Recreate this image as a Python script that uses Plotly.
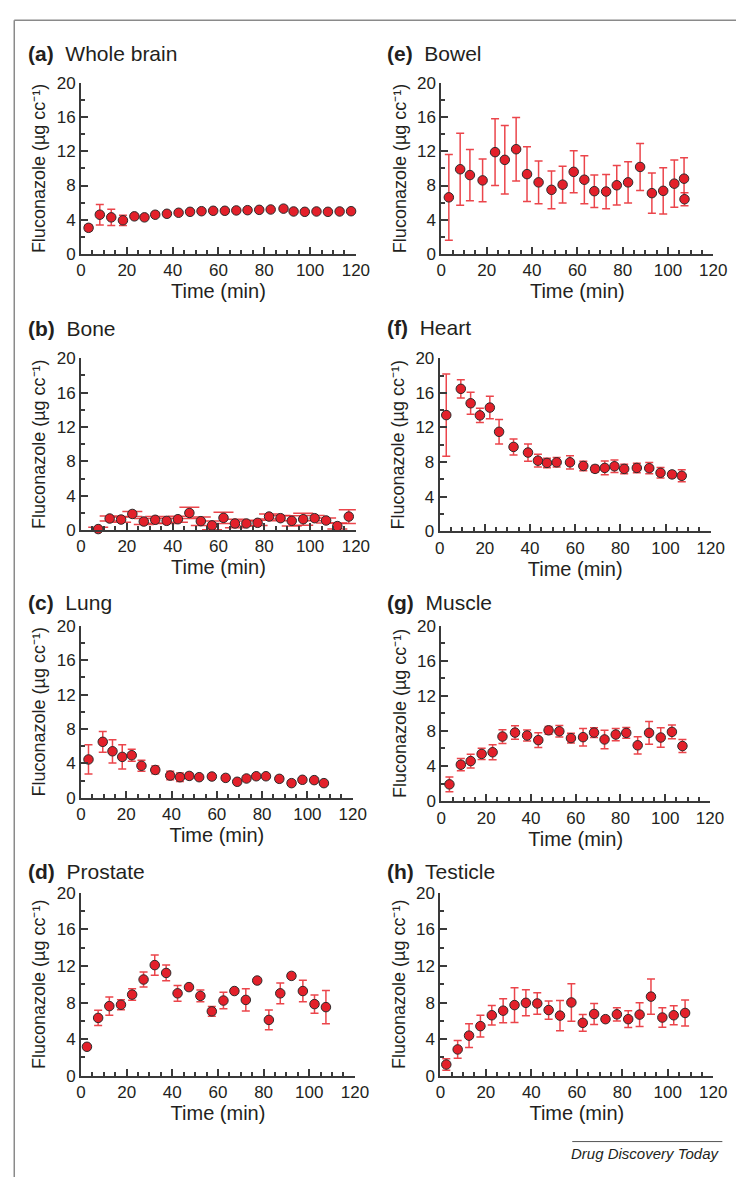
import plotly.graph_objects as go

W, H = 750, 1187

# ---------------- data ----------------
a_time = [3.3, 8.2, 13.2, 18.3, 23.3, 27.7, 32.4, 37.5, 42.6, 47.6, 52.6, 57.7, 62.8, 67.8, 72.7, 77.8, 82.8, 88.4, 92.8, 97.7, 102.8, 107.8, 112.9, 117.9]
a_conc = [3.06, 4.59, 4.28, 3.94, 4.40, 4.28, 4.59, 4.70, 4.82, 4.93, 5.00, 5.05, 5.05, 5.09, 5.12, 5.16, 5.20, 5.30, 4.97, 4.93, 4.97, 4.93, 4.97, 5.00]
a_err = [0.35, 1.20, 0.95, 0.60, 0.20, 0.20, 0.15, 0.15, 0.15, 0.15, 0.15, 0.15, 0.15, 0.15, 0.15, 0.15, 0.15, 0.15, 0.15, 0.15, 0.15, 0.15, 0.15, 0.15]

b_time = [7.5, 12.5, 17.5, 22.4, 27.4, 32.4, 37.4, 42.3, 47.3, 52.3, 57.2, 62.2, 67.2, 72.2, 77.1, 82.1, 87.1, 92.0, 97.0, 102.0, 107.0, 111.9, 116.9]
b_conc = [0.11, 1.34, 1.22, 1.87, 0.99, 1.19, 1.07, 1.26, 1.99, 1.03, 0.54, 1.42, 0.76, 0.76, 0.84, 1.57, 1.38, 1.07, 1.26, 1.38, 1.11, 0.46, 1.57]
b_err = [0.20, 0.30, 0.30, 0.30, 0.35, 0.40, 0.30, 0.35, 0.65, 0.50, 0.50, 0.65, 0.50, 0.30, 0.30, 0.30, 0.30, 0.60, 0.70, 0.30, 0.30, 0.35, 0.80]

c_time = [3.3, 9.6, 13.9, 18.2, 22.4, 26.7, 32.8, 39.4, 43.7, 47.8, 52.2, 57.8, 63.9, 69.0, 73.1, 77.4, 81.7, 87.6, 93.0, 97.8, 103.0, 107.3]
c_conc = [4.46, 6.51, 5.41, 4.76, 4.95, 3.73, 3.24, 2.59, 2.40, 2.55, 2.40, 2.48, 2.32, 1.87, 2.25, 2.51, 2.51, 2.21, 1.71, 2.10, 2.06, 1.71]
c_err = [1.70, 1.20, 1.35, 1.40, 0.70, 0.63, 0.45, 0.50, 0.50, 0.30, 0.25, 0.25, 0.25, 0.20, 0.30, 0.25, 0.25, 0.30, 0.25, 0.25, 0.25, 0.20]

d_time = [2.6, 7.5, 12.4, 17.5, 22.4, 27.4, 32.3, 37.3, 42.3, 47.3, 52.3, 57.3, 62.4, 67.2, 72.2, 77.2, 82.3, 87.3, 92.2, 97.2, 102.3, 107.3]
d_conc = [3.16, 6.32, 7.61, 7.76, 8.87, 10.52, 12.10, 11.24, 9.01, 9.69, 8.73, 7.04, 8.22, 9.26, 8.29, 10.41, 6.10, 9.01, 10.92, 9.26, 7.83, 7.50]
d_err = [0.20, 0.83, 1.00, 0.55, 0.63, 0.83, 1.10, 0.86, 0.86, 0.20, 0.65, 0.54, 0.90, 0.20, 1.22, 0.20, 1.08, 1.13, 0.25, 1.18, 1.00, 1.83]

e_time = [3.3, 8.3, 12.6, 18.2, 23.7, 28.0, 33.0, 37.8, 42.9, 48.6, 53.5, 58.4, 63.1, 67.5, 72.7, 77.4, 82.4, 87.7, 92.9, 97.9, 102.8, 107.1, 107.3]
e_conc = [6.62, 9.90, 9.22, 8.60, 11.90, 11.00, 12.24, 9.33, 8.37, 7.50, 8.10, 9.60, 8.68, 7.34, 7.30, 8.03, 8.37, 10.17, 7.11, 7.38, 8.22, 8.80, 6.40]
e_err = [5.00, 4.20, 3.00, 2.50, 3.90, 4.00, 3.70, 3.20, 2.50, 2.20, 2.15, 2.45, 2.80, 1.90, 2.00, 2.30, 2.40, 2.75, 2.35, 2.70, 2.75, 2.45, 0.75]

f_time = [2.9, 9.35, 13.7, 17.8, 22.2, 26.3, 32.7, 39.1, 43.5, 47.5, 51.8, 57.7, 63.6, 68.8, 73.1, 77.4, 81.7, 87.3, 92.8, 97.8, 102.9, 107.2]
f_conc = [13.43, 16.47, 14.80, 13.40, 14.30, 11.50, 9.75, 9.10, 8.16, 7.90, 7.97, 7.97, 7.55, 7.21, 7.32, 7.51, 7.21, 7.32, 7.29, 6.76, 6.57, 6.41]
f_err = [4.75, 1.05, 1.27, 0.82, 1.30, 1.42, 0.93, 1.00, 0.74, 0.55, 0.55, 0.76, 0.55, 0.40, 0.80, 0.72, 0.55, 0.55, 0.65, 0.60, 0.35, 0.70]

g_time = [3.6, 8.7, 13.1, 18.0, 22.9, 27.3, 32.9, 38.3, 43.3, 47.9, 52.7, 57.9, 63.3, 68.2, 72.9, 77.9, 82.6, 87.7, 92.8, 98.0, 103.0, 107.7]
g_conc = [1.91, 4.15, 4.56, 5.38, 5.57, 7.36, 7.81, 7.48, 6.95, 8.07, 7.96, 7.18, 7.29, 7.81, 7.03, 7.59, 7.78, 6.36, 7.78, 7.25, 7.89, 6.28]
g_err = [0.85, 0.70, 0.78, 0.65, 0.85, 0.78, 0.77, 0.63, 0.83, 0.45, 0.65, 0.55, 1.00, 0.55, 1.05, 0.70, 0.60, 0.98, 1.30, 1.12, 0.78, 0.75]

h_time = [2.6, 7.6, 12.6, 17.6, 22.6, 27.6, 32.6, 37.6, 42.6, 47.6, 52.6, 57.6, 62.6, 67.6, 72.6, 77.6, 82.6, 87.6, 92.6, 97.6, 102.6, 107.6]
h_conc = [1.22, 2.87, 4.38, 5.42, 6.61, 7.11, 7.72, 7.97, 7.90, 7.18, 6.57, 8.01, 5.78, 6.75, 6.18, 6.71, 6.18, 6.68, 8.65, 6.36, 6.61, 6.86]
h_err = [0.63, 0.97, 1.31, 1.20, 1.06, 1.31, 1.90, 1.42, 1.18, 1.00, 1.65, 2.05, 0.92, 1.15, 0.20, 0.73, 0.92, 1.29, 1.94, 1.06, 1.04, 1.42]

panel_letters = ["a", "b", "c", "d", "e", "f", "g", "h"]
panel_names = ["Whole brain", "Bone", "Lung", "Prostate", "Bowel", "Heart", "Muscle", "Testicle"]
x_ticks = [0, 20, 40, 60, 80, 100, 120]
y_ticks = [0, 4, 8, 12, 16, 20]
x_title = "Time (min)"
y_title = "Fluconazole (µg cc⁻¹)"
credit = "Drug Discovery Today"

series = {
    "a": (a_time, a_conc, a_err), "b": (b_time, b_conc, b_err),
    "c": (c_time, c_conc, c_err), "d": (d_time, d_conc, d_err),
    "e": (e_time, e_conc, e_err), "f": (f_time, f_conc, f_err),
    "g": (g_time, g_conc, g_err), "h": (h_time, h_conc, h_err),
}

# ---------------- layout geometry (pixels) ----------------
# plot area: left, right, top, bottom ; title position x, y
geom = {
    "a": (78, 360, 75, 249, 22, 45),
    "b": (78, 360, 355, 529.5, 22, 325),
    "c": (78, 356.7, 626.7, 801.7, 22, 603),
    "d": (78, 359, 898.3, 1084, 22, 877),
    "e": (447.7, 726.7, 75, 249, 390, 45),
    "f": (446, 724, 355, 530.7, 390, 324),
    "g": (447.7, 723.3, 626.7, 805, 390, 603),
    "h": (446.7, 726.7, 898.3, 1084, 390, 877),
}

FONT = "Liberation Sans, Arial, Helvetica, sans-serif"
TXT = "#231f20"
AX = "#3a3a3a"
RED = "#e3202a"
ERR = "rgba(232,36,44,0.85)"

fig = go.Figure()
annotations = []
layout_axes = {}

for i, key in enumerate(panel_letters):
    n = i + 1
    xs, ys, es = series[key]
    l, r, t, b, tx, ty = geom[key]
    xa = "x" if n == 1 else f"x{n}"
    ya = "y" if n == 1 else f"y{n}"
    fig.add_trace(go.Scatter(
        x=xs, y=ys, xaxis=xa, yaxis=ya, mode="markers",
        marker=dict(size=9.5, color=RED, line=dict(color="#2b2b2b", width=1)),
        error_y=dict(type="data", array=es, visible=True, color=ERR,
                     thickness=1.5, width=10 if key == "b" else 4),
        cliponaxis=False, showlegend=False, hoverinfo="x+y",
    ))
    common = dict(
        showline=True, linecolor=AX, linewidth=2, showgrid=False, zeroline=False,
        ticks="inside", ticklen=7, tickwidth=1.5, tickcolor=AX,
        tickfont=dict(family=FONT, size=17, color=TXT),
        fixedrange=True,
    )
    layout_axes["xaxis" if n == 1 else f"xaxis{n}"] = dict(
        common, domain=[l / W, r / W], anchor=ya, range=[0, 120],
        tickvals=x_ticks,
        minor=dict(ticks="inside", dtick=5, ticklen=4, tickwidth=1.5, tickcolor=AX),
        title=dict(text=x_title, font=dict(family=FONT, size=20, color=TXT), standoff=5),
    )
    layout_axes["yaxis" if n == 1 else f"yaxis{n}"] = dict(
        common, domain=[1 - b / H, 1 - t / H], anchor=xa, range=[0, 20],
        tickvals=y_ticks,
        minor=dict(ticks="inside", dtick=2, ticklen=4, tickwidth=1.5, tickcolor=AX),
        title=dict(text=y_title, font=dict(family=FONT, size=18, color=TXT), standoff=6),
    )
    annotations.append(dict(
        text=f"<b>({key})</b>  {panel_names[i]}", x=tx / W, y=1 - ty / H,
        xref="paper", yref="paper", xanchor="left", yanchor="middle",
        showarrow=False, font=dict(family=FONT, size=21, color=TXT),
    ))

annotations.append(dict(
    text=f"<i>{credit}</i>", x=736 / W, y=1 - 1163 / H, xref="paper", yref="paper",
    xanchor="right", yanchor="middle", showarrow=False,
    font=dict(family=FONT, size=15, color=TXT),
))

shapes = [
    dict(type="line", xref="paper", yref="paper", x0=9.5 / W, x1=1, y0=1 - 11.5 / H, y1=1 - 11.5 / H,
         line=dict(color="#8a8a8a", width=1.5)),
    dict(type="line", xref="paper", yref="paper", x0=9.5 / W, x1=9.5 / W, y0=0, y1=1 - 11.5 / H,
         line=dict(color="#8a8a8a", width=1.5)),
    dict(type="line", xref="paper", yref="paper", x0=582 / W, x1=736 / W, y0=1 - 1151 / H, y1=1 - 1151 / H,
         line=dict(color="#555555", width=1)),
]

fig.update_layout(
    width=W, height=H, margin=dict(l=0, r=0, t=0, b=0),
    paper_bgcolor="white", plot_bgcolor="white",
    annotations=annotations, shapes=shapes,
    font=dict(family=FONT, color=TXT),
    **layout_axes,
)

fig.write_html(
    "out.html",
    config={"displayModeBar": False},
    post_script="document.documentElement.style.margin='0px';document.body.style.margin='0px';document.body.style.overflow='hidden';",
)
